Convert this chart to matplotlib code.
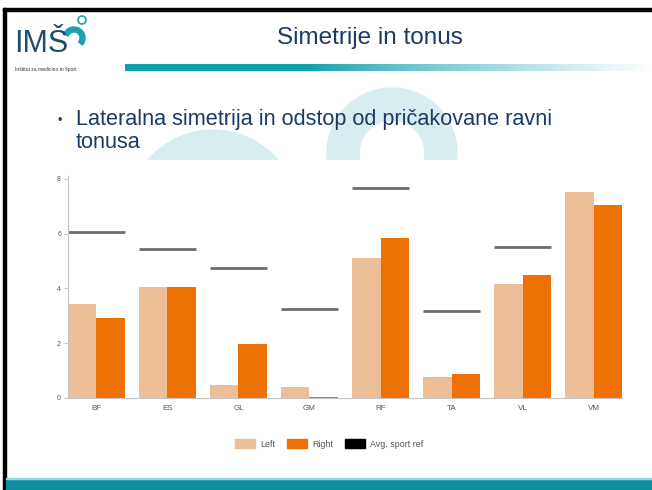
import numpy as np
import matplotlib
matplotlib.use("Agg")
import matplotlib.pyplot as plt
from matplotlib.patches import Rectangle, Circle, Wedge, Patch

muscles = ["BF", "ES", "GL", "GM", "RF", "TA", "VL", "VM"]
left = [3.44, 4.05, 0.46, 0.40, 5.12, 0.77, 4.17, 7.52]
right = [2.91, 4.05, 1.98, 0.05, 5.82, 0.89, 4.50, 7.06]
sport_ref = [6.07, 5.45, 4.74, 3.26, 7.66, 3.16, 5.51, None]

W, H = 652, 490
c_left = "#edbf98"
c_right = "#ee7203"
c_ref = "#6e6e6e"
navy = "#1b3a66"
teal = "#0b8fa0"

plt.rcParams['font.family'] = ['Liberation Sans', 'DejaVu Sans']

fig = plt.figure(figsize=(W / 100, H / 100), dpi=100)
fig.patch.set_facecolor("white")


def fx(x):
    return x / W


def fy(y):
    return 1 - y / H


# background layer in pixel coordinates (slide decoration)
bg = fig.add_axes([0, 0, 1, 1], zorder=0)
bg.axis("off")

wm = "#d8edf0"
bg.add_patch(Wedge((392, 153), 65, 0, 360, width=32, color=wm))
bg.add_patch(Circle((213, 215), 85, color=wm))
# chart picture pasted on the slide (white)
bg.add_patch(Rectangle((7, 160), 638, 308, color="white"))

# slide frame
bg.add_patch(Rectangle((3, 8.5), W, 3, color="black"))
bg.add_patch(Rectangle((3, 8.5), 3, H, color="black"))
# bottom band
bg.add_patch(Rectangle((6, 479), W, 12, color=teal))
bg.add_patch(Rectangle((6, 477.5), W, 1.5, color="#9fd3da"))

# header gradient bar
grad = np.linspace(0, 1, 300)
c0 = np.array(matplotlib.colors.to_rgb("#12a0ae"))
c1 = np.array([1.0, 1.0, 1.0])
t = np.clip((grad - 0.35) / 0.65, 0, 1) ** 0.8
img = c0[None, :] * (1 - t[:, None]) + c1[None, :] * t[:, None]
bg.imshow(img[None, :, :], aspect="auto", extent=[125, W, 71, 64])
bg.set_xlim(0, W)
bg.set_ylim(H, 0)

# logo
bg.text(14, 52, "IMŠ", fontsize=22, color="#1d4e6c", ha="left", va="baseline")
bg.add_patch(Wedge((74, 38), 11, 200, 40, width=5, color="#1aa2b0"))
bg.add_patch(Circle((82, 20), 4, fill=False, ec="#1aa2b0", lw=1.2))
bg.text(15, 71, "Inštitut za medicino in šport", fontsize=3.6,
        color="#333333", ha="left", va="baseline")

# titles
bg.text(370, 38, "Simetrije in tonus", fontsize=17.5, color=navy,
        ha="center", va="center")
bg.text(58, 124, "•", fontsize=9, color=navy, ha="left", va="baseline")
bg.text(76, 125, "Lateralna simetrija in odstop od pričakovane ravni",
        fontsize=15.6, color=navy, ha="left", va="baseline")
bg.text(76, 148, "tonusa", fontsize=15.6, color=navy, ha="left", va="baseline")

# chart
ax = fig.add_axes([fx(68), fy(398), fx(622) - fx(68), fy(176) - fy(398)], zorder=4)
ax.set_facecolor("none")
x = np.arange(len(muscles))
bw = 0.4
ax.bar(x - bw / 2, left, bw, color=c_left)
ax.bar(x + bw / 2, right, bw, color=c_right)
for i, v in enumerate(sport_ref):
    if v is not None:
        ax.hlines(v, i - bw, i + bw, color=c_ref, lw=2)

ax.set_xlim(-0.4, len(muscles) - 0.6)
ax.set_ylim(0, 8.1)
ax.set_yticks([0, 2, 4, 6, 8])
ax.set_xticks(x)
ax.set_xticklabels(muscles)
ax.tick_params(axis="y", labelsize=5, colors="#555555", length=3, width=0.6,
               pad=2, color="#bbbbbb")
ax.tick_params(axis="x", labelsize=5.8, colors="#555555", length=0, pad=5)
for s in ["top", "right"]:
    ax.spines[s].set_visible(False)
ax.spines["left"].set_color("#c4c4c4")
ax.spines["bottom"].set_color("#c4c4c4")
ax.spines["left"].set_linewidth(0.8)
ax.spines["bottom"].set_linewidth(0.8)

handles = [Patch(color=c_left, label="Left"), Patch(color=c_right, label="Right"),
           Patch(color="black", label="Avg. sport ref")]
leg = fig.legend(handles=handles, loc="center", bbox_to_anchor=(fx(329), fy(444)),
                 ncol=3, frameon=False, fontsize=6.4, handlelength=2.25,
                 handleheight=1.1, columnspacing=1.35, handletextpad=0.56)
for txt in leg.get_texts():
    txt.set_color("#555555")

fig.savefig("out.png", dpi=100)
